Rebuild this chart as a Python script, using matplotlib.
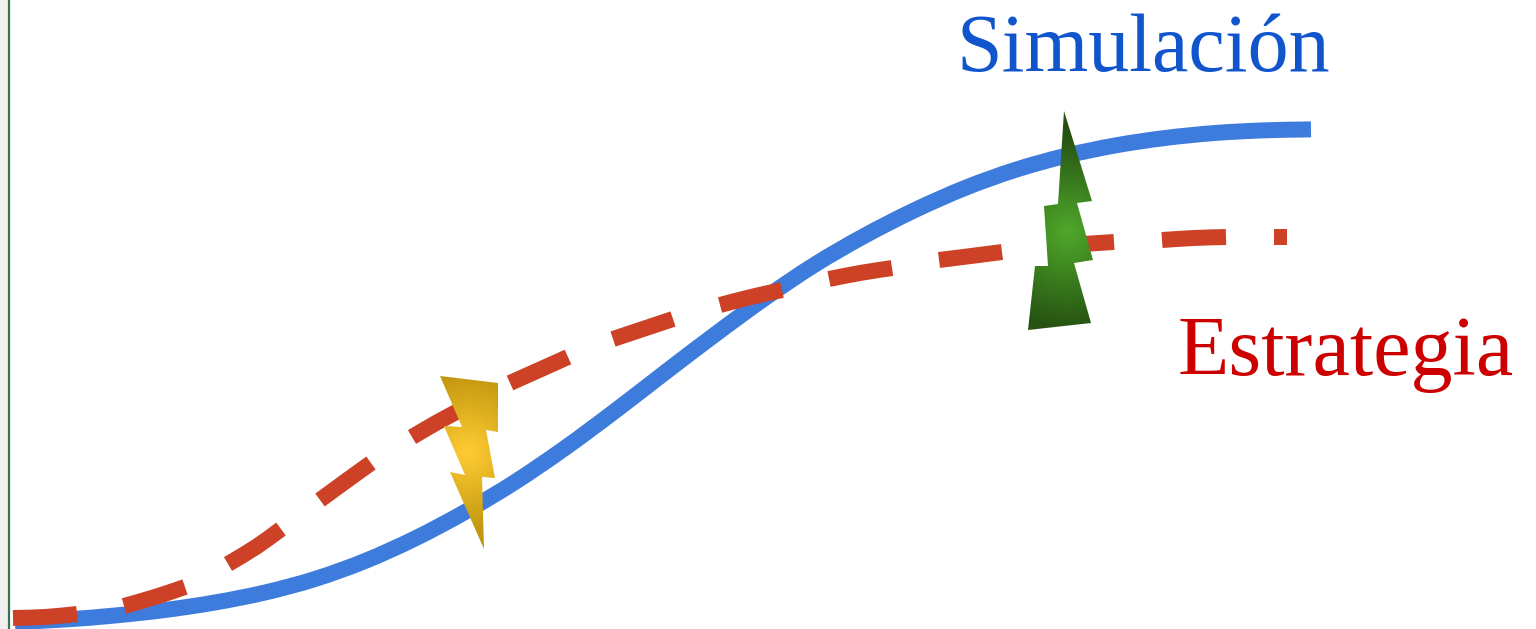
import numpy as np
import matplotlib
matplotlib.use("Agg")
import matplotlib.pyplot as plt
from matplotlib.colors import LinearSegmentedColormap
from matplotlib.patches import PathPatch, Polygon
from matplotlib.path import Path

# values, in image pixels
sim_x = [15, 65, 115, 165, 215, 265, 315, 365, 415, 465, 515, 565, 615, 665, 715, 765, 815, 865,
         915, 965, 1015, 1065, 1115, 1165, 1215, 1265, 1311]
sim_y = [622, 619.5, 615.5, 610, 602.5, 592.5, 579, 561, 538.5, 512, 482, 448, 411, 372.5, 334.5,
         298, 264.5, 235.5, 210, 188, 170, 156, 145.5, 138, 133, 130.3, 129.4]

dash_x = [[13, 45, 77], [124, 155, 185], [228, 256, 281], [320, 346, 371], [412, 436, 460],
          [510, 539, 568], [613, 643, 673], [720, 751, 782], [829, 860, 892], [939, 971, 1002],
          [1052, 1083, 1114], [1162, 1194, 1226], [1274, 1287]]
dash_y = [[618, 617, 614], [606, 597, 587], [564, 547, 529], [500, 481, 463], [437, 423, 410],
          [383, 370, 357], [339, 329, 319], [305, 297, 290], [279, 273, 268], [260, 256, 252],
          [246, 244, 242], [240, 238, 237], [237, 237]]

yellow_x = [440, 498, 498, 486, 495, 482, 484, 450, 465, 444, 462]
yellow_y = [376, 383, 432, 430, 478, 477, 549, 472, 475, 426, 427]
green_x = [1064, 1092, 1077, 1093, 1074, 1091, 1028, 1035, 1048, 1044, 1058]
green_y = [111, 201, 203, 260, 263, 323, 330, 266, 266, 206, 204]


def smooth_path(xs, ys):
    # bezier through the read points, catmull-rom handles
    p = np.column_stack([xs, ys]).astype(float)
    if len(p) == 2:
        return Path(p, [Path.MOVETO, Path.LINETO])
    ext = np.vstack([2 * p[0] - p[1], p, 2 * p[-1] - p[-2]])
    verts = [p[0]]
    codes = [Path.MOVETO]
    for i in range(1, len(ext) - 2):
        verts += [ext[i] + (ext[i + 1] - ext[i - 1]) / 6, ext[i + 1] - (ext[i + 2] - ext[i]) / 6, ext[i + 1]]
        codes += [Path.CURVE4] * 3
    return Path(verts, codes)


def stroke(ax, xs, ys, color, z):
    ax.add_patch(PathPatch(smooth_path(xs, ys), fc="none", ec=color, lw=11.5, capstyle="butt",
                           joinstyle="round", zorder=z))


def bolt(ax, xs, ys, cx, cy, colors):
    # radial gradient clipped to the bolt outline
    x0, x1, y0, y1 = min(xs), max(xs), min(ys), max(ys)
    gx, gy = np.meshgrid(np.linspace(x0, x1, 200), np.linspace(y0, y1, 300))
    r = np.hypot(gx - cx, gy - cy)
    rmax = np.hypot(np.array(xs) - cx, np.array(ys) - cy).max()
    cmap = LinearSegmentedColormap.from_list("bolt", colors)
    im = ax.imshow(r / (rmax * 0.8), extent=(x0, x1, y1, y0), cmap=cmap, aspect="auto", zorder=4,
                   vmin=0, vmax=1, interpolation="bilinear")
    poly = Polygon(np.column_stack([xs, ys]), closed=True, transform=ax.transData,
                   fc="none", ec="none")
    ax.add_patch(poly)
    im.set_clip_path(poly)


fig = plt.figure(figsize=(15.36, 6.29), dpi=100)
ax = fig.add_axes([0, 0, 1, 1])

ax.axvspan(0, 7.5, color="#f0f0f0", lw=0, zorder=0)
ax.axvline(8.5, color="#3f7050", lw=1.6, zorder=1)

stroke(ax, sim_x, sim_y, "#3d7bdc", 2)
for dx, dy in zip(dash_x, dash_y):
    stroke(ax, dx, dy, "#cd4226", 3)

bolt(ax, yellow_x, yellow_y, 468, 452, ["#ffcc33", "#c2970f"])
bolt(ax, green_x, green_y, 1068, 232, ["#4fa82a", "#265212"])

ax.text(1143, 71, "Simulación", color="#1155cc", fontsize=59, family="Liberation Serif",
        ha="center", va="baseline")
ax.text(1346, 375, "Estrategia", color="#cc0000", fontsize=60.5, family="Liberation Serif",
        ha="center", va="baseline")

ax.set_xlim(0, 1536)
ax.set_ylim(629, 0)
ax.axis("off")
fig.savefig("out.png", dpi=100)
